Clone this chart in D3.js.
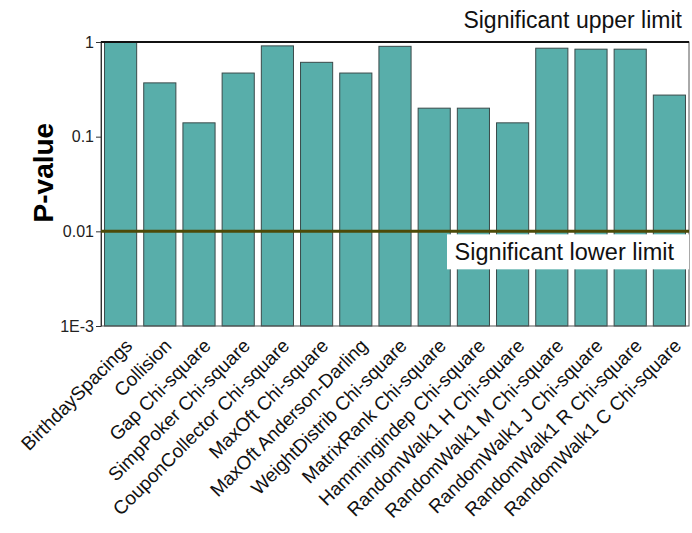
<!DOCTYPE html>
<html lang="en">
<head>
    <meta charset="UTF-8">
    <title>P-value chart</title>
    <script src="https://d3js.org/d3.v7.min.js"></script>
    <style>
        body { margin: 0; background: #fff; }
        text { font-family: "Liberation Sans", Arial, sans-serif; }
    </style>
</head>
<body>
    <svg id="chart" width="692" height="533"></svg>

    <script>
        // Test names and their P-values
        const tests = [
            "BirthdaySpacings", "Collision", "Gap Chi-square", "SimpPoker Chi-square",
            "CouponCollector Chi-square", "MaxOft Chi-square", "MaxOft Anderson-Darling",
            "WeightDistrib Chi-square", "MatrixRank Chi-square", "Hammingindep Chi-square",
            "RandomWalk1 H Chi-square", "RandomWalk1 M Chi-square", "RandomWalk1 J Chi-square",
            "RandomWalk1 R Chi-square", "RandomWalk1 C Chi-square"
        ];
        const pValues = [0.99, 0.37, 0.14, 0.47, 0.91, 0.61, 0.47, 0.90, 0.20, 0.20, 0.14, 0.86, 0.84, 0.84, 0.275];

        const yTicks = [0.001, 0.01, 0.1, 1];
        const yTickLabels = ["1E-3", "0.01", "0.1", "1"];
        const upperLimit = 1;
        const lowerLimit = 0.01;

        const margin = { left: 101, right: 3, top: 42, bottom: 207 };
        const width = 692 - margin.left - margin.right;
        const height = 533 - margin.top - margin.bottom;

        const svg = d3.select("#chart");
        const g = svg.append("g")
            .attr("transform", `translate(${margin.left},${margin.top})`);

        const x = d3.scaleBand()
            .domain(tests)
            .range([0, width])
            .paddingInner(0.18)
            .paddingOuter(0.09);

        const y = d3.scaleLog()
            .domain([0.001, 1])
            .range([height, 0]);

        // bars
        g.selectAll("rect.bar")
            .data(tests)
            .enter().append("rect")
            .attr("class", "bar")
            .attr("x", d => x(d))
            .attr("width", x.bandwidth())
            .attr("y", (d, i) => y(pValues[i]))
            .attr("height", (d, i) => height - y(pValues[i]))
            .attr("fill", "#58aeaa")
            .attr("stroke", "#3a4a4a")
            .attr("stroke-width", 1);

        // frame
        g.append("rect")
            .attr("width", width)
            .attr("height", height)
            .attr("fill", "none")
            .attr("stroke", "#555")
            .attr("stroke-width", 1);

        // y axis
        const yAxis = d3.axisLeft(y)
            .tickValues(yTicks)
            .tickFormat((d, i) => yTickLabels[i])
            .tickSizeInner(5)
            .tickSizeOuter(0);

        const ya = g.append("g").call(yAxis);
        ya.select(".domain").attr("stroke", "#333");
        ya.selectAll(".tick line").attr("stroke", "#333");
        ya.selectAll(".tick text")
            .attr("font-size", 16)
            .attr("fill", "#222")
            .attr("x", -7);

        // x labels
        g.append("g")
            .selectAll("text")
            .data(tests)
            .enter().append("text")
            .attr("transform", d => `translate(${x(d) + x.bandwidth() / 2 + 13},${height + 21}) rotate(-45)`)
            .attr("text-anchor", "end")
            .attr("font-size", 19)
            .attr("fill", "#111")
            .text(d => d);

        // upper limit line
        g.append("line")
            .attr("x1", 0).attr("x2", width)
            .attr("y1", y(upperLimit)).attr("y2", y(upperLimit))
            .attr("stroke", "#111")
            .attr("stroke-width", 2);

        // lower limit line
        g.append("line")
            .attr("x1", 0).attr("x2", width)
            .attr("y1", y(lowerLimit)).attr("y2", y(lowerLimit))
            .attr("stroke", "#4d4a08")
            .attr("stroke-width", 3);

        g.append("text")
            .attr("x", width - 7)
            .attr("y", y(upperLimit) - 14)
            .attr("text-anchor", "end")
            .attr("font-size", 23)
            .attr("fill", "#111")
            .text("Significant upper limit");

        g.append("rect")
            .attr("x", 346)
            .attr("y", y(lowerLimit) + 3)
            .attr("width", width - 346)
            .attr("height", 35)
            .attr("fill", "#fff");

        g.append("text")
            .attr("x", width - 15)
            .attr("y", y(lowerLimit) + 29)
            .attr("text-anchor", "end")
            .attr("font-size", 23.5)
            .attr("fill", "#111")
            .text("Significant lower limit");

        // y title
        svg.append("text")
            .attr("transform", `translate(53,${margin.top + height * 0.46}) rotate(-90)`)
            .attr("text-anchor", "middle")
            .attr("font-size", 28)
            .attr("font-weight", "bold")
            .attr("fill", "#000")
            .text("P-value");
    </script>
</body>
</html>
